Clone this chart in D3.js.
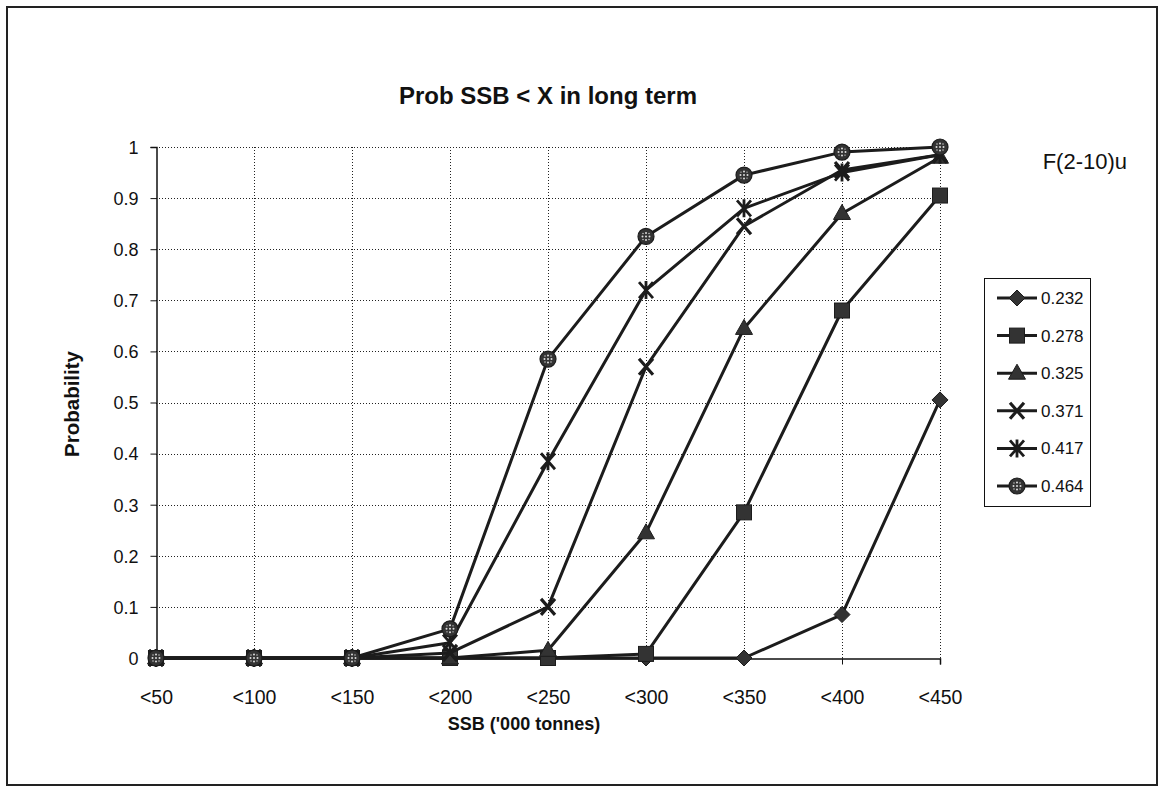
<!DOCTYPE html>
<html>
<head>
<meta charset="utf-8">
<script src="https://cdn.jsdelivr.net/npm/d3@7"></script>
<style>
  html, body { margin: 0; padding: 0; background: #fff; }
  svg { display: block; font-family: "Liberation Sans", Arial, sans-serif; }
</style>
</head>
<body>
<svg id="chart" width="1163" height="805"></svg>
<script>
// SSB class upper limits ('000 tonnes)
const categories = ["<50", "<100", "<150", "<200", "<250", "<300", "<350", "<400", "<450"];

// Probability that long-term SSB falls below each limit, one array per F value
const f232 = [0, 0, 0, 0, 0, 0, 0, 0.085, 0.505];
const f278 = [0, 0, 0, 0, 0, 0.008, 0.285, 0.68, 0.905];
const f325 = [0, 0, 0, 0, 0.015, 0.245, 0.645, 0.87, 0.98];
const f371 = [0, 0, 0, 0.01, 0.1, 0.57, 0.845, 0.955, 0.985];
const f417 = [0, 0, 0, 0.03, 0.385, 0.72, 0.88, 0.95, 0.985];
const f464 = [0, 0, 0, 0.057, 0.585, 0.825, 0.945, 0.99, 1.0];

const seriesNames = ["0.232", "0.278", "0.325", "0.371", "0.417", "0.464"];
const seriesMarkers = ["diamond", "square", "triangle", "cross", "star", "circle"];
const yTicks = [0, 0.1, 0.2, 0.3, 0.4, 0.5, 0.6, 0.7, 0.8, 0.9, 1];

const series = [f232, f278, f325, f371, f417, f464].map((vals, i) => ({
  name: seriesNames[i], marker: seriesMarkers[i], values: vals
}));

const svg = d3.select("#chart");
const plot = { left: 156, right: 940, top: 147, bottom: 658 };
const ink = "#1c1c1c";
const fillDark = "#333";
const font = "'Liberation Sans', Arial, sans-serif";

// Outer chart frame
svg.append("rect")
  .attr("x", 7).attr("y", 7).attr("width", 1150).attr("height", 778)
  .attr("fill", "#fff").attr("stroke", "#222").attr("stroke-width", 2);

const x = d3.scalePoint().domain(categories).range([plot.left, plot.right]);
const y = d3.scaleLinear().domain([0, 1]).range([plot.bottom, plot.top]);

// Dotted gridlines
const grid = svg.append("g").attr("stroke", "#222").attr("stroke-width", 1)
  .attr("stroke-dasharray", "1,2").attr("fill", "none");
grid.selectAll("line.h").data(yTicks.slice(1)).join("line")
  .attr("x1", plot.left).attr("x2", plot.right)
  .attr("y1", d => Math.round(y(d)) + 0.5).attr("y2", d => Math.round(y(d)) + 0.5);
grid.selectAll("line.v").data(categories.slice(1)).join("line")
  .attr("x1", d => Math.round(x(d)) + 0.5).attr("x2", d => Math.round(x(d)) + 0.5)
  .attr("y1", plot.top).attr("y2", plot.bottom);

// Axes
const yAxis = d3.axisLeft(y).tickValues(yTicks).tickSize(6).tickPadding(12)
  .tickFormat(d => d3.format("")(+d.toFixed(1)));
const gy = svg.append("g").attr("transform", `translate(${plot.left + 0.5},0)`).call(yAxis);
const xAxis = d3.axisBottom(x).tickSize(6);
const gx = svg.append("g").attr("transform", `translate(0,${plot.bottom + 0.5})`).call(xAxis);
[gx, gy].forEach(g => {
  g.select(".domain").attr("stroke", "#111").attr("stroke-width", 1.5);
  g.selectAll(".tick line").attr("stroke", "#111");
  g.selectAll(".tick text").attr("fill", "#111").attr("font-size", 18).attr("font-family", font);
});
gy.selectAll(".tick text").attr("dy", "0.35em");
gx.selectAll(".tick text").attr("font-size", 19.5).attr("y", 39).attr("dy", "0.35em");

// Marker shapes
function drawMarker(g, type) {
  const s = 8;
  if (type === "diamond") {
    g.append("path").attr("d", `M0,${-s}L${s},0L0,${s}L${-s},0Z`)
      .attr("fill", fillDark).attr("stroke", ink).attr("stroke-width", 1);
  } else if (type === "square") {
    g.append("rect").attr("x", -7.5).attr("y", -7.5).attr("width", 15).attr("height", 15)
      .attr("fill", fillDark).attr("stroke", ink).attr("stroke-width", 1);
  } else if (type === "triangle") {
    g.append("path").attr("d", `M0,-9L8.5,6L-8.5,6Z`)
      .attr("fill", fillDark).attr("stroke", ink).attr("stroke-width", 1);
  } else if (type === "cross") {
    g.append("path").attr("d", "M-7,-8L7,8M-7,8L7,-8")
      .attr("stroke", ink).attr("stroke-width", 3.2).attr("fill", "none");
  } else if (type === "star") {
    g.append("path").attr("d", "M-7,-8L7,8M-7,8L7,-8M0,-9L0,9")
      .attr("stroke", ink).attr("stroke-width", 2.8).attr("fill", "none");
  } else if (type === "circle") {
    g.append("circle").attr("r", 8).attr("fill", fillDark).attr("stroke", ink).attr("stroke-width", 1.2);
    [[0, -3.5], [-3.5, 0], [3.5, 0], [0, 3.5], [0, 0], [-3, -3], [3, 3], [3, -3], [-3, 3]]
      .forEach(([dx, dy], k) => {
        g.append("circle").attr("cx", dx).attr("cy", dy).attr("r", k < 5 ? 1 : 0.7)
          .attr("fill", "#ddd");
      });
  }
}

// Series lines and markers (later series drawn on top)
const line = d3.line().x((d, i) => x(categories[i])).y(d => y(d));
series.forEach(s => {
  const g = svg.append("g");
  g.append("path").attr("d", line(s.values)).attr("fill", "none")
    .attr("stroke", ink).attr("stroke-width", 3).attr("stroke-linejoin", "round");
  s.values.forEach((v, i) => {
    const m = g.append("g").attr("transform", `translate(${x(categories[i])},${y(v)})`);
    drawMarker(m, s.marker);
  });
});

// Titles
svg.append("text").attr("x", 548).attr("y", 104).attr("text-anchor", "middle")
  .attr("font-size", 24).attr("font-weight", "bold").attr("fill", "#111")
  .text("Prob SSB < X in long term");
svg.append("text").attr("x", 524).attr("y", 730).attr("text-anchor", "middle")
  .attr("font-size", 18).attr("font-weight", "bold").attr("fill", "#111")
  .text("SSB ('000 tonnes)");
svg.append("text").attr("transform", "translate(79,404) rotate(-90)").attr("text-anchor", "middle")
  .attr("font-size", 20.5).attr("font-weight", "bold").attr("fill", "#111")
  .text("Probability");
svg.append("text").attr("x", 1127).attr("y", 169).attr("text-anchor", "end")
  .attr("font-size", 22).attr("fill", "#111").text("F(2-10)u");

// Legend
const legend = svg.append("g");
legend.append("rect").attr("x", 984.5).attr("y", 278.5).attr("width", 106).attr("height", 228)
  .attr("fill", "#fff").attr("stroke", "#111").attr("stroke-width", 1);
series.forEach((s, i) => {
  const ly = 298 + i * 37.6;
  const row = legend.append("g").attr("transform", `translate(0,${ly})`);
  row.append("line").attr("x1", 997).attr("x2", 1037).attr("stroke", ink).attr("stroke-width", 3);
  drawMarker(row.append("g").attr("transform", "translate(1017,0)"), s.marker);
  row.append("text").attr("x", 1041).attr("y", 0).attr("dy", "0.35em")
    .attr("font-size", 17).attr("fill", "#111").text(s.name);
});
</script>
</body>
</html>
